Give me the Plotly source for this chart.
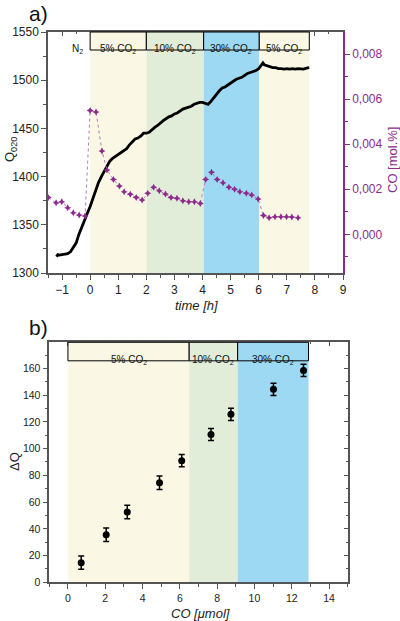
import plotly.graph_objects as go

# ---------------- data: panel a ----------------
time_h = [-1.2, -1.15, -1.1, -1.0, -0.9, -0.8, -0.7, -0.6, -0.5, -0.4, -0.3, -0.2, -0.1,
          0.0, 0.1, 0.2, 0.3, 0.4, 0.5, 0.6, 0.7, 0.8, 0.9, 1.0, 1.1, 1.2, 1.3, 1.4, 1.5,
          1.6, 1.7, 1.8, 1.9, 2.0, 2.1, 2.2, 2.3, 2.4, 2.5, 2.6, 2.7, 2.8, 2.9, 3.0, 3.1,
          3.2, 3.3, 3.4, 3.5, 3.6, 3.7, 3.8, 3.9, 4.0, 4.1, 4.2, 4.3, 4.4, 4.5, 4.6, 4.7,
          4.8, 4.9, 5.0, 5.1, 5.2, 5.3, 5.4, 5.5, 5.6, 5.7, 5.8, 5.9, 6.0, 6.05, 6.1, 6.15,
          6.2, 6.3, 6.4, 6.5, 6.6, 6.7, 6.8, 6.9, 7.0, 7.1, 7.2, 7.3, 7.4, 7.5, 7.6, 7.7, 7.8]
q020 = [1317, 1319, 1318.5, 1319, 1319.5, 1320, 1322, 1326, 1331, 1340, 1348, 1355, 1362,
        1369, 1378, 1387, 1394, 1400, 1405, 1411, 1416, 1419, 1421, 1423, 1425, 1427, 1429, 1433, 1436,
        1439, 1440, 1442, 1445, 1445, 1446, 1449, 1451, 1453, 1456, 1458, 1460, 1462, 1463, 1465, 1466,
        1468, 1470, 1471, 1472, 1473, 1475, 1476, 1477, 1477, 1476, 1475, 1478, 1482, 1486, 1489, 1492,
        1493, 1495, 1497, 1499, 1501, 1502, 1503, 1505, 1507, 1508, 1509, 1510, 1512, 1514, 1517, 1518,
        1516, 1515, 1514, 1513, 1513, 1512, 1512, 1511.5, 1512, 1511.5, 1512, 1511.5, 1512, 1512, 1511.5, 1512.5, 1513]

co_time = [-1.49, -1.21, -1.01, -0.8, -0.6, -0.39, -0.18, 0.0, 0.21, 0.42, 0.6, 0.83, 1.04, 1.21,
           1.43, 1.64, 1.85, 2.05, 2.26, 2.46, 2.68, 2.88, 3.09, 3.3, 3.51, 3.71, 3.92, 4.11, 4.32,
           4.52, 4.73, 4.94, 5.14, 5.33, 5.56, 5.75, 5.98, 6.17, 6.37, 6.58, 6.79, 6.99, 7.18, 7.4]
co_molpct = [0.00163, 0.0014, 0.00145, 0.00118, 0.00096, 0.00086, 0.00081, 0.0055, 0.00544, 0.0037,
             0.00286, 0.00244, 0.00215, 0.00189, 0.00178, 0.00163, 0.00152, 0.00182, 0.00209, 0.00194,
             0.00179, 0.00163, 0.0016, 0.00149, 0.00145, 0.00145, 0.00137, 0.00244, 0.00276, 0.00244,
             0.00229, 0.00209, 0.002, 0.00189, 0.00182, 0.00175, 0.00157, 0.00083, 0.00074, 0.00078,
             0.00078, 0.00078, 0.00077, 0.00074]

co_ticks = [0.0, 0.002, 0.004, 0.006, 0.008]
co_ticktext = ["0,000", "0,002", "0,004", "0,006", "0,008"]

bands_a = [("5% CO<sub>2</sub>", 0.0, 2.0), ("10% CO<sub>2</sub>", 2.0, 4.04),
           ("30% CO<sub>2</sub>", 4.04, 6.02), ("5% CO<sub>2</sub>", 6.02, 7.8)]

# ---------------- data: panel b ----------------
co_umol = [0.71, 2.05, 3.18, 4.91, 6.1, 7.67, 8.74, 11.02, 12.63]
delta_q = [14.7, 35.6, 52.6, 74.5, 91.0, 110.6, 125.6, 144.3, 158.5]
delta_q_err = [5, 5, 5, 5, 4.5, 4.5, 4.5, 4.5, 4.5]

bands_b = [("5% CO<sub>2</sub>", 0.0, 6.5), ("10% CO<sub>2</sub>", 6.5, 9.1),
           ("30% CO<sub>2</sub>", 9.1, 12.9)]

band_colors = {"5": "#FAF8E4", "10": "#E2EDD9", "30": "#9ED9F4"}

W, H = 400, 621
def px(x):
    return x / W
def py(y):
    return 1 - y / H

FONT = "Liberation Sans, Arial, sans-serif"
PURPLE = "#8B2C8B"
AX = "#555555"

fig = go.Figure()

fig.add_trace(go.Scatter(x=time_h, y=q020, mode="lines", line=dict(color="black", width=2.8),
                         xaxis="x", yaxis="y", showlegend=False))
fig.add_trace(go.Scatter(x=co_time, y=co_molpct, mode="lines+markers",
                         line=dict(color="#B57BB5", width=1, dash="dot"),
                         marker=dict(symbol="star-diamond", size=5, color=PURPLE),
                         xaxis="x", yaxis="y2", showlegend=False))
fig.add_trace(go.Scatter(x=co_umol, y=delta_q, mode="markers",
                         marker=dict(symbol="circle", size=7, color="black"),
                         error_y=dict(type="data", array=delta_q_err, color="black", thickness=1.5, width=3),
                         xaxis="x2", yaxis="y3", showlegend=False))
# helper invisible traces for mirrored inside-tick axes
fig.add_trace(go.Scatter(x=[0], y=[1400], mode="markers", opacity=0, hoverinfo="skip",
                         xaxis="x3", yaxis="y", showlegend=False))
fig.add_trace(go.Scatter(x=[0], y=[50], mode="markers", opacity=0, hoverinfo="skip",
                         xaxis="x4", yaxis="y3", showlegend=False))
fig.add_trace(go.Scatter(x=[0], y=[50], mode="markers", opacity=0, hoverinfo="skip",
                         xaxis="x2", yaxis="y5", showlegend=False))

dom_xa = [px(48), px(343)]
dom_ya = [py(273), py(32)]
dom_xb = [px(49.3), px(347.7)]
dom_yb = [py(582.3), py(342.3)]

tickfont_a = dict(family=FONT, size=12, color="#222")
tickfont_b = dict(family=FONT, size=10.5, color="#222")

common = dict(showline=True, linecolor=AX, linewidth=1.5, showgrid=False, zeroline=False,
              automargin=False)

fig.update_layout(
    width=W, height=H, margin=dict(l=0, r=0, t=0, b=0),
    paper_bgcolor="white", plot_bgcolor="white",
    xaxis=dict(domain=dom_xa, anchor="y", range=[-1.5, 9], dtick=1, tick0=0,
               ticks="outside", ticklen=5, tickwidth=1.2, tickcolor=AX,
               minor=dict(dtick=0.5, ticks="outside", ticklen=3, tickcolor=AX),
               tickfont=tickfont_a, **common),
    yaxis=dict(domain=dom_ya, anchor="x", range=[1300, 1550], dtick=50,
               ticks="outside", ticklen=5, tickwidth=1.2, tickcolor=AX,
               minor=dict(dtick=25, ticks="outside", ticklen=3, tickcolor=AX),
               tickfont=tickfont_a, **common),
    yaxis2=dict(overlaying="y", side="right", anchor="x", range=[-0.00172, 0.00899],
                tickvals=co_ticks, ticktext=co_ticktext,
                ticks="outside", ticklen=5, tickwidth=1.2, tickcolor=PURPLE,
                minor=dict(dtick=0.001, ticks="outside", ticklen=3, tickcolor=PURPLE),
                tickfont=dict(family=FONT, size=12, color=PURPLE),
                showline=True, linecolor=PURPLE, linewidth=1.5, showgrid=False, zeroline=False,
                automargin=False),
    xaxis3=dict(overlaying="x", side="top", anchor="y", range=[-1.5, 9], dtick=1, tick0=0,
                ticks="inside", ticklen=4, tickcolor=AX, showticklabels=False,
                minor=dict(dtick=0.5, ticks="inside", ticklen=2, tickcolor=AX), **common),
    xaxis2=dict(domain=dom_xb, anchor="y3", range=[-1, 15], dtick=2, tick0=0,
                ticks="outside", ticklen=5, tickwidth=1.2, tickcolor=AX,
                minor=dict(dtick=1, ticks="outside", ticklen=3, tickcolor=AX),
                tickfont=tickfont_b, **common),
    yaxis3=dict(domain=dom_yb, anchor="x2", range=[0, 179.5], dtick=20,
                ticks="outside", ticklen=5, tickwidth=1.2, tickcolor=AX,
                minor=dict(dtick=10, ticks="outside", ticklen=3, tickcolor=AX),
                tickfont=tickfont_b, **common),
    xaxis4=dict(overlaying="x2", side="top", anchor="y3", range=[-1, 15], dtick=2, tick0=0,
                ticks="inside", ticklen=4, tickcolor=AX, showticklabels=False,
                minor=dict(dtick=1, ticks="inside", ticklen=2, tickcolor=AX), **common),
    yaxis5=dict(overlaying="y3", side="right", anchor="x2", range=[0, 179.5], dtick=20,
                ticks="inside", ticklen=4, tickcolor=AX, showticklabels=False,
                minor=dict(dtick=10, ticks="inside", ticklen=2, tickcolor=AX), **common),
)

shapes = []
annotations = []

def band_color(label):
    return band_colors[label.split("%")[0]]

HEAD_A = 1 - 18 / 241
for label, x0, x1 in bands_a:
    c = band_color(label)
    shapes.append(dict(type="rect", xref="x", yref="y domain", x0=x0, x1=x1, y0=0, y1=HEAD_A,
                       fillcolor=c, line=dict(width=0), layer="below"))
    shapes.append(dict(type="rect", xref="x", yref="y domain", x0=x0, x1=x1, y0=HEAD_A, y1=1,
                       fillcolor=c, line=dict(color="black", width=1), layer="above"))
    annotations.append(dict(x=(x0 + x1) / 2, y=(HEAD_A + 1) / 2, xref="x", yref="y domain",
                            text=label, showarrow=False, font=dict(family=FONT, size=10, color="#111")))
annotations.append(dict(x=-0.46, y=(HEAD_A + 1) / 2, xref="x", yref="y domain",
                        text="N<sub>2</sub>", showarrow=False, font=dict(family=FONT, size=10, color="#111")))

HEAD_B = 1 - 18.5 / 240
for label, x0, x1 in bands_b:
    c = band_color(label)
    shapes.append(dict(type="rect", xref="x2", yref="y3 domain", x0=x0, x1=x1, y0=0, y1=HEAD_B,
                       fillcolor=c, line=dict(width=0), layer="below"))
    shapes.append(dict(type="rect", xref="x2", yref="y3 domain", x0=x0, x1=x1, y0=HEAD_B, y1=1,
                       fillcolor=c, line=dict(color="black", width=1), layer="above"))
    annotations.append(dict(x=(x0 + x1) / 2, y=(HEAD_B + 1) / 2, xref="x2", yref="y3 domain",
                            text=label, showarrow=False, font=dict(family=FONT, size=10, color="#111")))

def ann(text, x, y, size=13, color="#222", angle=0, italic=False):
    annotations.append(dict(text=text, x=px(x), y=py(y), xref="paper", yref="paper",
                            showarrow=False, textangle=angle, xanchor="center", yanchor="middle",
                            font=dict(family=FONT, size=size, color=color,
                                      style="italic" if italic else "normal")))

ann("a)", 38, 14, size=21, color="#111")
ann("b)", 38, 327, size=21, color="#111")
ann("Q<sub>020</sub>", 11, 150, size=13, angle=-90)
ann("CO [mol.%]", 392, 160, size=13, color=PURPLE, angle=-90)
ann("time [h]", 196, 305, size=13, italic=True)
ann("ΔQ", 14, 462, size=13, angle=-90)
ann("CO [μmol]", 200, 613, size=13, italic=True)

fig.update_layout(shapes=shapes, annotations=annotations)

fig.write_html("out.html")
